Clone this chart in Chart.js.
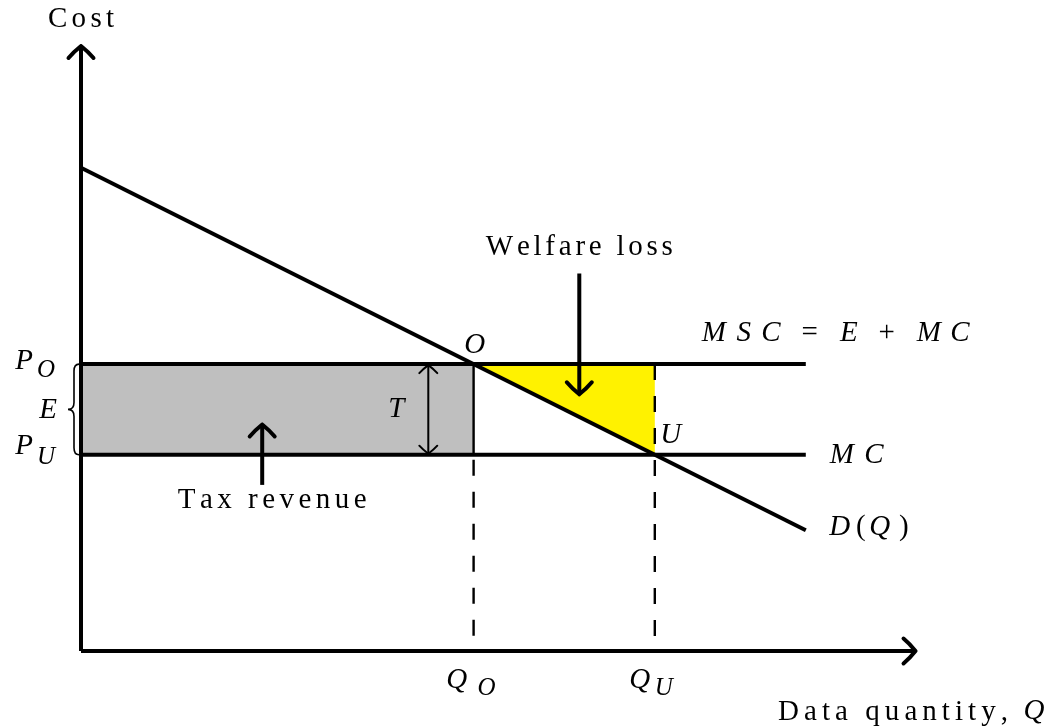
<!DOCTYPE html>
<html>
<head>
<meta charset="utf-8">
<script src="https://cdn.jsdelivr.net/npm/chart.js@4.4.1/dist/chart.umd.min.js"></script>
<style>
  body { margin: 0; background: #fff; }
  canvas { display: block; }
</style>
</head>
<body>
<canvas id="chart" width="1052" height="728"></canvas>
<script>
// Demand curve D(Q), straight line between two points
const demandQ = [0, 12];
const demandP = [8, 2];
// Price levels: MSC = E + MC (top) and MC (bottom)
const priceO = 4.75;
const priceU = 3.25;
// Quantities at the optimum O and at the unregulated point U
const qO = 6.5;
const qU = 9.5;
const lineEnd = 12;
// Axis extents
const axisQ = 13.8;
const axisP = 10;
// Annotation arrows
const welfareArrowQ = 8.25;
const welfareArrowP = [6.25, 4.25];
const taxArrowQ = 3;
const taxArrowP = [2.75, 3.75];
const tArrowQ = 5.75;

const pts = (xs, ys) => xs.map((x, i) => ({ x: x, y: ys[i] }));

function line(data, width, extra) {
  return Object.assign({
    data: data,
    borderColor: '#000',
    borderWidth: width,
    backgroundColor: 'transparent',
    fill: false,
    clip: false,
    pointRadius: 0,
    tension: 0
  }, extra || {});
}

const datasets = [
  // shaded areas
  line(pts([0, qO, qO, 0], [priceO, priceO, priceU, priceU]), 0,
       { fill: 'shape', backgroundColor: '#bfbfbf', borderColor: 'transparent' }),
  line(pts([qO, qU, qU], [priceO, priceO, priceU]), 0,
       { fill: 'shape', backgroundColor: '#fff200', borderColor: 'transparent' }),
  // axes
  line(pts([0, axisQ], [0, 0]), 4),
  line(pts([0, 0], [0, axisP]), 4),
  // curves
  line(pts([0, lineEnd], [priceO, priceO]), 4),
  line(pts([0, lineEnd], [priceU, priceU]), 4),
  line(pts(demandQ, demandP), 4),
  // quantity markers
  line(pts([qO, qO], [priceO, priceU]), 2.4),
  line(pts([qO, qO], [priceU, 0]), 2.4, { borderDash: [16, 16], borderDashOffset: 27 }),
  line(pts([qU, qU], [priceO, 0]), 2.4, { borderDash: [16, 16], borderDashOffset: 0 }),
  // arrows
  line(pts([welfareArrowQ, welfareArrowQ], welfareArrowP), 4),
  line(pts([taxArrowQ, taxArrowQ], taxArrowP), 4),
  line(pts([tArrowQ, tArrowQ], [priceO, priceU]), 2)
];

function arrowHead(ctx, x, y, dx, dy, len, half, width) {
  const px = -dy, py = dx;
  ctx.save();
  ctx.strokeStyle = '#000';
  ctx.lineWidth = width;
  ctx.lineCap = 'round';
  ctx.lineJoin = 'round';
  ctx.beginPath();
  [1, -1].forEach(s => {
    const bx = x - dx * len + s * px * half, by = y - dy * len + s * py * half;
    ctx.moveTo(bx, by);
    ctx.quadraticCurveTo(x - dx * len * 0.5 + s * px * half * 0.6,
                         y - dy * len * 0.5 + s * py * half * 0.6, x, y);
  });
  ctx.stroke();
  ctx.restore();
}

// plain text stretched to a given width, like the loose setting of the original
function spaced(ctx, text, x, y, font, width, align) {
  ctx.font = font;
  const chars = [...text];
  const ws = chars.map(c => ctx.measureText(c).width);
  const natural = ws.reduce((a, b) => a + b, 0);
  const gap = chars.length > 1 ? Math.max(0, (width - natural) / (chars.length - 1)) : 0;
  const total = natural + gap * (chars.length - 1);
  let cx = align === 'center' ? x - total / 2 : align === 'right' ? x - total : x;
  ctx.textAlign = 'left';
  ctx.textBaseline = 'middle';
  chars.forEach((c, i) => { ctx.fillText(c, cx, y); cx += ws[i] + gap; });
}

// math glyphs, each centred on its own x
function glyphs(ctx, items, font) {
  ctx.font = font;
  ctx.textAlign = 'center';
  ctx.textBaseline = 'middle';
  items.forEach(g => ctx.fillText(g[0], g[1], g[2]));
}

const ROMAN = '29px "Liberation Serif"';
const ITALIC = 'italic 29px "Liberation Serif"';
const SUB = 'italic 25px "Liberation Serif"';
const UPRIGHT = '29px "Liberation Serif"';

const annotations = {
  id: 'annotations',
  afterDatasetsDraw(chart) {
    const ctx = chart.ctx;
    const X = chart.scales.x, Y = chart.scales.y;
    const px = v => X.getPixelForValue(v), py = v => Y.getPixelForValue(v);

    // arrow heads
    arrowHead(ctx, px(axisQ) + 1, py(0), 1, 0, 12, 12.5, 4);
    arrowHead(ctx, px(0), py(axisP) - 1, 0, -1, 12, 12.5, 4);
    arrowHead(ctx, px(welfareArrowQ), py(welfareArrowP[1]), 0, 1, 12, 12.5, 4);
    arrowHead(ctx, px(taxArrowQ), py(taxArrowP[1]), 0, -1, 12, 12.5, 4);
    arrowHead(ctx, px(tArrowQ), py(priceO) + 1, 0, -1, 8, 9, 2);
    arrowHead(ctx, px(tArrowQ), py(priceU) - 1, 0, 1, 8, 9, 2);

    // brace for E
    const y1 = py(priceO), y2 = py(priceU), ym = (y1 + y2) / 2;
    const xr = px(0) - 2, xm = px(0) - 7, xt = px(0) - 13;
    ctx.save();
    ctx.strokeStyle = '#000';
    ctx.lineWidth = 1.6;
    ctx.beginPath();
    ctx.moveTo(xr, y1);
    ctx.quadraticCurveTo(xm, y1, xm, y1 + 7);
    ctx.lineTo(xm, ym - 7);
    ctx.quadraticCurveTo(xm, ym, xt, ym);
    ctx.quadraticCurveTo(xm, ym, xm, ym + 7);
    ctx.lineTo(xm, y2 - 7);
    ctx.quadraticCurveTo(xm, y2, xr, y2);
    ctx.stroke();
    ctx.restore();

    ctx.save();
    ctx.fillStyle = '#000';
    spaced(ctx, 'Cost', px(0), py(axisP) - 28, ROMAN, 66, 'center');
    spaced(ctx, 'Welfare loss', px(welfareArrowQ), py(welfareArrowP[0]) - 26, ROMAN, 187, 'center');
    spaced(ctx, 'Tax revenue', px(taxArrowQ) + 10, py(taxArrowP[0]) + 15, ROMAN, 189, 'center');
    spaced(ctx, 'Data quantity,', 778, py(0) + 61, ROMAN, 230, 'left');
    glyphs(ctx, [['Q', 1034, py(0) + 60]], ITALIC);

    const e = px(lineEnd), yO = py(priceO), yU = py(priceU), yD = py(demandP[1]);
    glyphs(ctx, [['M', e - 92, yO - 31], ['S', e - 62, yO - 31], ['C', e - 35, yO - 31],
                 ['E', e + 43, yO - 31], ['M', e + 123, yO - 31], ['C', e + 154, yO - 31]], ITALIC);
    glyphs(ctx, [['=', e + 4, yO - 31], ['+', e + 81, yO - 31]], UPRIGHT);
    glyphs(ctx, [['M', e + 36, yU + 1], ['C', e + 68, yU + 1]], ITALIC);
    glyphs(ctx, [['D', e + 34, yD - 3], ['Q', e + 74, yD - 3]], ITALIC);
    glyphs(ctx, [['(', e + 55, yD - 3], [')', e + 98, yD - 3]], UPRIGHT);

    glyphs(ctx, [['O', px(qO) + 1, yO - 19], ['U', px(qU) + 16, yU - 19],
                 ['T', px(tArrowQ) - 32, ym], ['E', 48, ym + 1],
                 ['P', 24, yO - 3], ['P', 24, yU - 8],
                 ['Q', px(qO) - 17, py(0) + 29], ['Q', px(qU) - 15, py(0) + 29]], ITALIC);
    glyphs(ctx, [['O', 46, yO + 6], ['U', 46, yU + 3],
                 ['O', px(qO) + 13, py(0) + 37], ['U', px(qU) + 9, py(0) + 37]], SUB);
    ctx.restore();
  }
};

new Chart(document.getElementById('chart'), {
  type: 'line',
  data: { datasets: datasets },
  options: {
    responsive: false,
    animation: false,
    devicePixelRatio: 1,
    events: [],
    layout: { padding: { left: 81, right: 125.4, top: 47, bottom: 77 } },
    scales: {
      x: { type: 'linear', min: 0, max: 14, display: false },
      y: { type: 'linear', min: 0, max: 10, display: false }
    },
    plugins: {
      legend: { display: false },
      tooltip: { enabled: false },
      filler: { drawTime: 'beforeDatasetsDraw' }
    }
  },
  plugins: [annotations]
});
</script>
</body>
</html>
